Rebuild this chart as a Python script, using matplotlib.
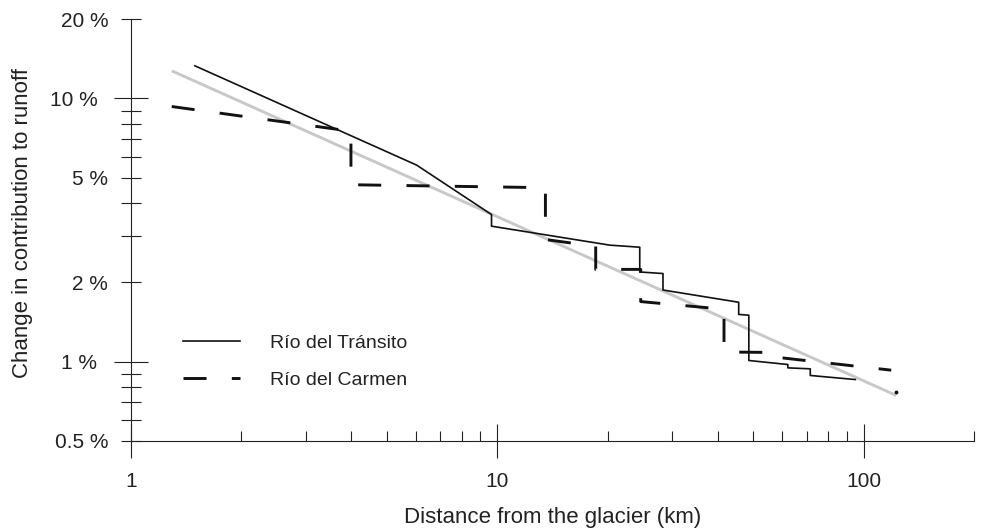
import matplotlib
matplotlib.use("Agg")
import matplotlib.pyplot as plt
from matplotlib.ticker import FixedLocator, FuncFormatter, NullFormatter

plt.rcParams['font.family'] = ['Liberation Sans', 'DejaVu Sans']
plt.rcParams['lines.scale_dashes'] = False

# ---- data (distance in km, change in %) ----
transito_x = [1.497, 6.03, 9.65, 9.65, 20.28, 24.49, 24.49, 28.34, 28.34, 45.6, 45.6,
              48.6, 48.6, 62.1, 62.1, 71.5, 71.5, 94.9]
transito_y = [13.31, 5.58, 3.62, 3.27, 2.77, 2.72, 2.19, 2.16, 1.87, 1.68, 1.51,
              1.50, 1.009, 0.974, 0.946, 0.938, 0.885, 0.854]

carmen_x = [1.294, 3.99, 3.99, 13.54, 13.54, 18.57, 18.57, 24.64, 24.64, 41.58, 41.58,
            58.6, 58.6, 118.9]
carmen_y = [9.32, 7.51, 4.70, 4.58, 2.91, 2.74, 2.24, 2.24, 1.69, 1.58, 1.087,
            1.082, 1.036, 0.927]

fit_x = [1.294, 122.7]
fit_y = [12.74, 0.743]

dot_x = [122.7]
dot_y = [0.767]

y_major = [1, 10]
y_minor = [0.5, 0.6, 0.7, 0.8, 0.9, 2, 3, 4, 5, 6, 7, 8, 9, 20]
y_labelled = {0.5: '0.5 %', 1: '1 %', 2: '2 %', 5: '5 %', 10: '10 %', 20: '20 %'}
x_major = [1, 10, 100]
x_minor = [2, 3, 4, 5, 6, 7, 8, 9, 20, 30, 40, 50, 60, 70, 80, 90, 200]

fig = plt.figure(figsize=(9.82, 5.30), dpi=100)
ax = fig.add_axes([130.7/982, 1-440.7/530, (974-130.7)/982, (440.7-19.3)/530])

txt = '#222222'
ax.plot(fit_x, fit_y, color='#c8c8c8', lw=2.1, solid_capstyle='butt', zorder=1)
ax.plot(transito_x, transito_y, color='#111111', lw=1.2, label='Río del Tránsito', zorder=3)
ax.plot(carmen_x, carmen_y, color='#111111', lw=2.1, dashes=(16.6, 18.2),
        label='Río del Carmen', zorder=2)
ax.plot(dot_x, dot_y, 'o', color='#111111', ms=1.8, zorder=3)

ax.set_xscale('log')
ax.set_yscale('log')
ax.set_xlim(1, 200)
ax.set_ylim(0.5, 20)

for s in ['top', 'right']:
    ax.spines[s].set_visible(False)
for s in ['left', 'bottom']:
    ax.spines[s].set_linewidth(0.8)
    ax.spines[s].set_color('#222222')

ax.yaxis.set_major_locator(FixedLocator(y_major))
ax.yaxis.set_minor_locator(FixedLocator(y_minor))
fmt = FuncFormatter(lambda v, p: y_labelled.get(round(v, 3), ''))
ax.yaxis.set_major_formatter(fmt)
ax.yaxis.set_minor_formatter(fmt)

ax.xaxis.set_major_locator(FixedLocator(x_major))
ax.xaxis.set_minor_locator(FixedLocator(x_minor))
ax.xaxis.set_major_formatter(FuncFormatter(lambda v, p: f'{v:g}'))
ax.xaxis.set_minor_formatter(NullFormatter())

ax.tick_params(axis='y', which='major', direction='inout', length=25, width=0.8,
               pad=11.5, labelsize=15, colors=txt)
ax.tick_params(axis='y', which='minor', direction='inout', length=15, width=0.8,
               pad=8.7, labelsize=15, colors=txt)
ax.tick_params(axis='x', which='major', direction='inout', length=25, width=0.8,
               pad=10, labelsize=15, colors=txt)
ax.tick_params(axis='x', which='minor', direction='in', length=7.2, width=0.8, colors=txt)

ax.set_xlabel('Distance from the glacier (km)', fontsize=16, color=txt)
ax.set_ylabel('Change in contribution to runoff', fontsize=16, color=txt)
ax.xaxis.set_label_coords(0.5, -0.157)
ax.yaxis.set_label_coords(-0.116, 0.5166)

leg = ax.legend(loc='upper left', bbox_to_anchor=(0.0624, 0.253), frameon=False,
                fontsize=14, handlelength=2.93, handletextpad=1.54, labelspacing=1.0,
                borderpad=0, borderaxespad=0)
for t in leg.get_texts():
    t.set_color(txt)

fig.savefig('out.png', dpi=100)
